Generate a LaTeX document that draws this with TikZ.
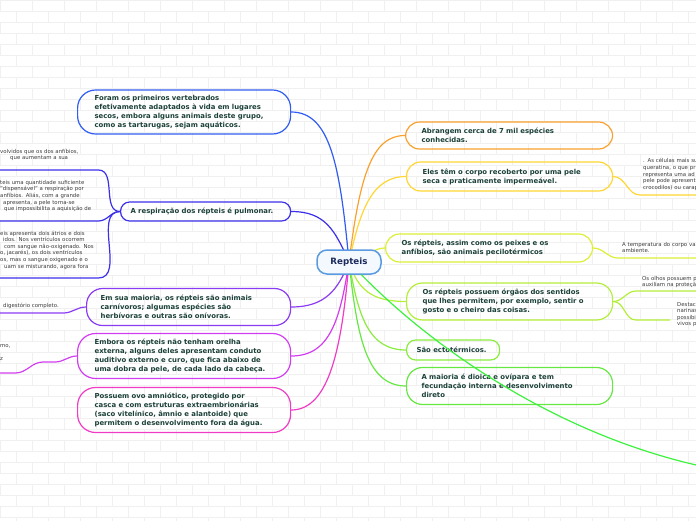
\documentclass[tikz,border=0pt]{standalone}
\usepackage{fontspec}
\setmainfont{DejaVu Sans}
\usetikzlibrary{backgrounds}
\definecolor{speciesorange}{HTML}{F9A12E}
\definecolor{skinyellow}{HTML}{FFD633}
\definecolor{tempyellow}{HTML}{DDEE38}
\definecolor{senselime}{HTML}{B3EE3A}
\definecolor{ectogreen}{HTML}{8AEC3E}
\definecolor{reprogreen}{HTML}{66E842}
\definecolor{tailgreen}{HTML}{3DF23D}
\definecolor{originblue}{HTML}{2F5CF2}
\definecolor{lungindigo}{HTML}{3B2FE8}
\definecolor{dietpurple}{HTML}{8A3CF2}
\definecolor{earviolet}{HTML}{D23DF0}
\definecolor{eggmagenta}{HTML}{F03CC4}
\definecolor{ideagreen}{HTML}{1B4038}
\definecolor{centernavy}{HTML}{1C2B5E}
\definecolor{centerblue}{HTML}{5A9AE0}
\definecolor{centerfill}{HTML}{F4F9FF}
\definecolor{leafgray}{HTML}{3C3C3C}
\definecolor{brickgray}{HTML}{F0F0F0}

\begin{document}
\begin{tikzpicture}[
  x=1pt, y=-1pt,
  idea/.style={draw, rounded corners=14pt, line width=1.2pt, anchor=west, align=left,
               font=\bfseries\fontsize{6.9}{9}\selectfont, text=ideagreen},
  center/.style={draw=centerblue, fill=centerfill, line width=1.5pt, rounded corners=10pt,
                 minimum width=64pt, minimum height=24pt,
                 font=\bfseries\fontsize{8.7}{10}\selectfont, text=centernavy},
  leaf/.style={anchor=south west, align=left, inner xsep=0pt,
               font=\fontsize{5.4}{6.6}\selectfont, text=leafgray},
  link/.style={line width=1.2pt},
  twig/.style={line width=1.2pt},
  brick/.style={draw=brickgray, line width=.5pt}
]
\useasboundingbox (0,0) rectangle (696,520);
\clip (0,0) rectangle (696,520);

% faint brick wall behind everything
\begin{scope}[on background layer]
  \foreach \yy in {0,...,47}{
    \draw[brick] (0,\yy*11) -- (696,\yy*11);
    \foreach \xx in {0,...,22}
      \draw[brick] ({\xx*32+mod(\yy,2)*16},\yy*11) -- ++(0,11);
  }
\end{scope}

% central topic
\node[center] (rep) at (349,262) {Repteis};

% right-hand ideas
\node[idea, draw=speciesorange, text width=175pt, inner xsep=16pt, minimum height=27pt] (species) at (405,135.5)
  {Abrangem cerca de 7 mil espécies\\conhecidas.};
\node[idea, draw=skinyellow, text width=174pt, inner xsep=16pt, minimum height=29pt] (skin) at (406,176.5)
  {Eles têm o corpo recoberto por uma pele\\seca e praticamente impermeável.};
\node[idea, draw=tempyellow, text width=175pt, inner xsep=16pt, minimum height=28pt] (temp) at (385,248)
  {Os répteis, assim como os peixes e os\\anfíbios, são animais pecilotérmicos};
\node[idea, draw=senselime, text width=174pt, inner xsep=16pt, minimum height=37pt, rounded corners=16pt] (senses) at (406,301.5)
  {Os répteis possuem órgãos dos sentidos\\que lhes permitem, por exemplo, sentir o\\gosto e o cheiro das coisas.};
\node[idea, draw=ectogreen, text width=73pt, inner xsep=10pt, minimum height=20pt, rounded corners=9pt] (ecto) at (406,350)
  {São ectotérmicos.};
\node[idea, draw=reprogreen, text width=176pt, inner xsep=15pt, minimum height=37pt, rounded corners=16pt] (repro) at (406,386)
  {A maioria é dioica e ovípara e tem\\fecundação interna e desenvolvimento\\direto};

% left-hand ideas
\node[idea, draw=originblue, text width=179pt, inner xsep=17pt, minimum height=44pt, rounded corners=18pt] (origin) at (77,112)
  {Foram os primeiros vertebrados\\efetivamente adaptados à vida em lugares\\secos, embora alguns animais deste grupo,\\como as tartarugas, sejam aquáticos.};
\node[idea, draw=lungindigo, text width=150pt, inner xsep=10pt, minimum height=19pt, rounded corners=9pt] (lungs) at (120,211.5)
  {A respiração dos répteis é pulmonar.};
\node[idea, draw=dietpurple, text width=176pt, inner xsep=14pt, minimum height=37pt, rounded corners=16pt] (diet) at (86,307)
  {Em sua maioria, os répteis são animais\\carnívoros; algumas espécies são\\herbívoras e outras são onívoras.};
\node[idea, draw=earviolet, text width=179pt, inner xsep=17pt, minimum height=45pt, rounded corners=18pt] (ears) at (77,356)
  {Embora os répteis não tenham orelha\\externa, alguns deles apresentam conduto\\auditivo externo e curo, que fica abaixo de\\uma dobra da pele, de cada lado da cabeça.};
\node[idea, draw=eggmagenta, text width=179pt, inner xsep=17pt, minimum height=45pt, rounded corners=18pt] (eggs) at (77,410)
  {Possuem ovo amniótico, protegido por\\casca e com estruturas extraembrionárias\\(saco vitelínico, âmnio e alantoide) que\\permitem o desenvolvimento fora da água.};

% leaves cut by the left edge
\node[leaf, text width=98pt, inner ysep=8.7pt] (lungleaf) at (0,170)
  {volvidos que os dos anfíbios,\\\hspace*{10pt}que aumentam a sua};
\node[leaf, text width=98pt, inner ysep=9pt] (skinleaf) at (0,221)
  {teis uma quantidade suficiente\\"dispensável" a respiração por\\anfíbios. Aliás, com a grande\\\hspace*{3pt}apresenta, a pele torna-se\\\hspace*{4pt}que impossibilita a aquisição de};
\node[leaf, text width=98pt, inner ysep=8.6pt] (heartleaf) at (0,278)
  {eis apresenta dois átrios e dois\\\hspace*{3pt}idos. Nos ventrículos ocorrem\\\hspace*{4pt}com sangue não-oxigenado. Nos\\o, jacarés), os dois ventrículos\\os, mas o sangue oxigenado e o\\\hspace*{4pt}uam se misturando, agora fora};
\node[leaf, text width=63pt, inner ysep=4.3pt] (digestleaf) at (0,313)
  {\hspace*{3pt}digestório completo.};
\node[leaf, text width=15pt, inner ysep=12.5pt] (earleaf) at (0,373)
  {mo,\\[6.6pt]z};
\coordinate (earknot1) at (55,362);
\coordinate (earknot2) at (43,362);

% leaves cut by the right edge
\node[leaf, text width=90pt, inner xsep=3pt, inner ysep=4.3pt] (keratinleaf) at (640,195)
  {. As células mais su\\queratina, o que pr\\representa uma ad\\pele pode apresent\\crocodilos) ou carap};
\node[leaf, text width=90pt, inner xsep=4pt, inner ysep=5pt] (templeaf) at (618,258)
  {A temperatura do corpo va\\ambiente.};
\node[leaf, text width=90pt, inner xsep=6pt, inner ysep=3pt] (eyeleaf) at (636,291)
  {Os olhos possuem p\\auxiliam na proteção};
\node[leaf, anchor=north west, text width=40pt, inner ysep=1pt] (noseleaf) at (677,301)
  {Destac\\narinas\\possibi\\vivos p};
\coordinate (noseknot1) at (636,320);
\coordinate (noseknot2) at (670,320);
\coordinate (tailend) at (720,470);

% branches from the central topic
\begin{scope}[on background layer]
  \draw[link, speciesorange] (rep.center) .. controls (360,175) and (372,135.5) .. (species.west);
  \draw[link, skinyellow] (rep.center) .. controls (360,210) and (372,176.5) .. (skin.west);
  \draw[link, tempyellow] (rep.center) .. controls (368,255) and (375,248) .. (temp.west);
  \draw[link, senselime] (rep.center) .. controls (358,290) and (372,301.5) .. (senses.west);
  \draw[link, ectogreen] (rep.center) .. controls (358,315) and (368,350) .. (ecto.west);
  \draw[link, reprogreen] (rep.center) .. controls (357,335) and (366,386) .. (repro.west);
  \draw[link, originblue] (rep.center) .. controls (340,165) and (330,112) .. (origin.east);
  \draw[link, lungindigo] (rep.center) .. controls (335,230) and (325,211.5) .. (lungs.east);
  \draw[link, dietpurple] (rep.center) .. controls (338,290) and (325,307) .. (diet.east);
  \draw[link, earviolet] (rep.center) .. controls (340,320) and (330,356) .. (ears.east);
  \draw[link, eggmagenta] (rep.center) .. controls (342,345) and (330,410) .. (eggs.east);

  % sub-branches
  \draw[twig, lungindigo] (lungs.west) to[out=180,in=0] (lungleaf.south east) -- (lungleaf.south west);
  \draw[twig, lungindigo] (lungs.west) to[out=180,in=0] (skinleaf.south east) -- (skinleaf.south west);
  \draw[twig, lungindigo] (lungs.west) to[out=180,in=0] (heartleaf.south east) -- (heartleaf.south west);
  \draw[twig, dietpurple] (diet.west) to[out=180,in=0] (digestleaf.south east) -- (digestleaf.south west);
  \draw[twig, earviolet] (ears.west) to[out=180,in=0] (earknot1) -- (earknot2)
    to[out=180,in=0] (earleaf.south east) -- (earleaf.south west);
  \draw[twig, skinyellow] (skin.east) to[out=0,in=180] (keratinleaf.south west) -- (keratinleaf.south east);
  \draw[twig, tempyellow] (temp.east) to[out=0,in=180] (templeaf.south west) -- (templeaf.south east);
  \draw[twig, senselime] (senses.east) to[out=0,in=180] (eyeleaf.south west) -- (eyeleaf.south east);
  \draw[twig, senselime] (senses.east) to[out=0,in=180] (noseknot1) -- (noseknot2);
\end{scope}

% long branch running off the right edge
\draw[link, tailgreen] (rep) .. controls (430,345) and (560,440) .. (tailend);

\end{tikzpicture}
\end{document}
